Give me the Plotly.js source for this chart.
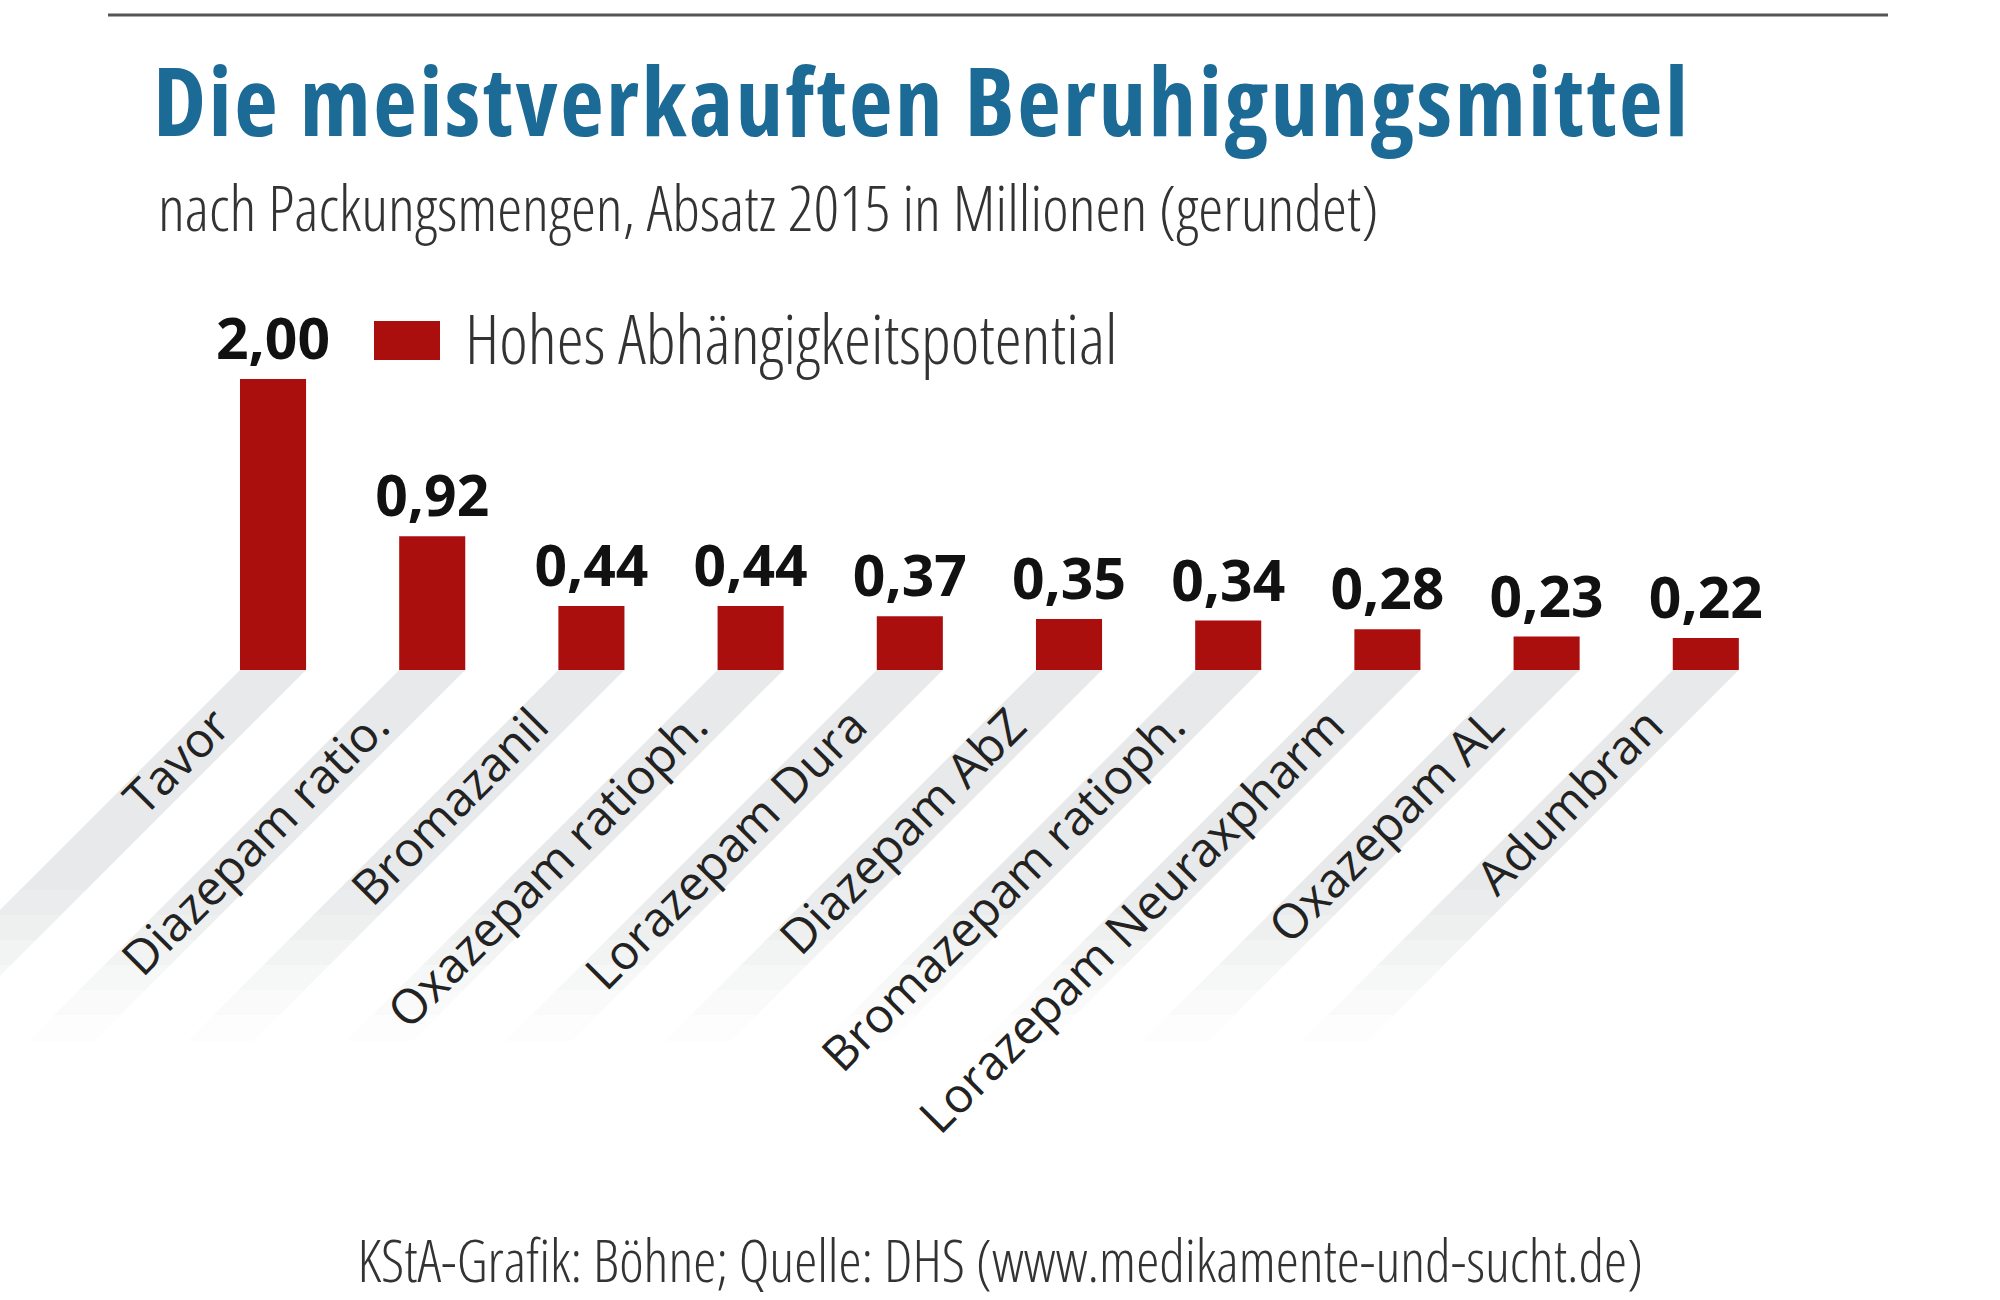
<!DOCTYPE html>
<html><head><meta charset="utf-8">
<script src="https://cdn.plot.ly/plotly-3.0.1.min.js"></script>
<style>
html,body{margin:0;padding:0;background:#fff;}
#chart{width:2000px;height:1300px;}
#chart .annotation-text{font-stretch:75%;}
#chart text.gtitle{font-stretch:75%;letter-spacing:2.5px;}
</style></head><body><div id="chart"></div>
<script>
const categories = ["Tavor","Diazepam ratio.","Bromazanil","Oxazepam ratioph.","Lorazepam Dura","Diazepam AbZ","Bromazepam ratioph.","Lorazepam Neuraxpharm","Oxazepam AL","Adumbran"];
const values = [2.00,0.92,0.44,0.44,0.37,0.35,0.34,0.28,0.23,0.22];
const seriesName = "Hohes Abhängigkeitspotential";
const titleText = "Die meistverkauften Beruhigungsmittel";
const subtitleText = "nach Packungsmengen, Absatz 2015 in Millionen (gerundet)";
const sourceText = "KStA-Grafik: Böhne; Quelle: DHS (www.medikamente-und-sucht.de)";

const W = 2000, H = 1300, TOP = 300, BASE = 670;
const py = px => (BASE - px) / (BASE - TOP);
const barColor = '#aa0f0e';

const shapes = [];
// diagonal label stripes (decoration), fading out
const stripeStops = [[0,220,'#e7e9ea'],[220,245,'#eaeced'],[245,270,'#eef0f0'],[270,295,'#f2f3f3'],[295,320,'#f6f7f7'],[320,345,'#fafafa'],[345,370,'#fdfdfd']];
const half = 33;
categories.forEach(c => {
  stripeStops.forEach(([d0, d1, col]) => {
    const e = d1 + 1;
    shapes.push({type:'path', xref:'x', xsizemode:'pixel', xanchor:c, yref:'paper', ysizemode:'pixel', yanchor:0,
      layer:'below', line:{width:0}, fillcolor:col,
      path:`M ${-half-d0} ${-d0} L ${half-d0} ${-d0} L ${half-e} ${-e} L ${-half-e} ${-e} Z`});
  });
});
// top rule
shapes.push({type:'line', xref:'paper', yref:'paper', x0:0.054, x1:0.944, y0:py(15), y1:py(15), line:{color:'#555', width:3}});
// legend swatch
shapes.push({type:'rect', xref:'paper', yref:'paper', x0:374/W, x1:440/W, y0:py(360), y1:py(321), fillcolor:barColor, line:{width:0}});

const trace = {
  type:'bar', x:categories, y:values, name:seriesName,
  marker:{color:barColor},
  texttemplate:'%{y:.2f}', textposition:'outside', constraintext:'none', cliponaxis:false,
  textfont:{family:'Open Sans', size:57, weight:700, color:'#111'},
  hoverinfo:'skip'
};

const layout = {
  width:W, height:H,
  margin:{l:0, r:0, t:TOP, b:H-BASE, pad:0},
  paper_bgcolor:'#fff', plot_bgcolor:'rgba(0,0,0,0)',
  showlegend:false, separators:',.', bargap:0.585,
  xaxis:{type:'category', range:[-1.715, 10.848], tickangle:-45,
    tickfont:{family:'Open Sans', size:48, color:'#222'},
    ticks:'', showline:false, showgrid:false, zeroline:false,
    ticklabelshift:-57, ticklabelstandoff:17, automargin:false, fixedrange:true},
  yaxis:{range:[0, 2.543], visible:false, fixedrange:true},
  title:{text:titleText, font:{family:'Open Sans', size:95, weight:700, color:'#1c6a96'},
    xref:'container', x:0.0765, xanchor:'left', yref:'container', y:1-102.5/H, yanchor:'middle'},
  annotations:[
    {text:subtitleText, xref:'paper', yref:'paper', x:0.078, xanchor:'left', align:'left', y:py(206.5), yanchor:'middle', showarrow:false,
     font:{family:'Open Sans', size:63, weight:300, color:'#333'}},
    {text:seriesName, xref:'paper', yref:'paper', x:463/W, xanchor:'left', align:'left', y:py(337.5), yanchor:'middle', showarrow:false,
     font:{family:'Open Sans', size:68, weight:300, color:'#333'}},
    {text:sourceText, xref:'paper', yref:'paper', x:0.5, xanchor:'center', y:py(1259), yanchor:'middle', showarrow:false,
     font:{family:'Open Sans', size:58.3, weight:300, color:'#333'}}
  ],
  shapes:shapes
};

Plotly.newPlot('chart', [trace], layout, {staticPlot:true, displayModeBar:false});
</script></body></html>
